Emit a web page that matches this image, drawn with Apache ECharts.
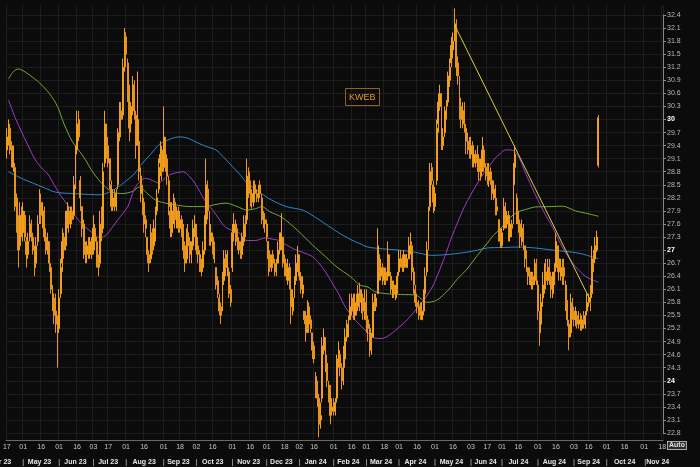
<!DOCTYPE html>
<html><head><meta charset="utf-8">
<script src="https://cdn.jsdelivr.net/npm/echarts@6/dist/echarts.min.js"></script>
<style>html,body{margin:0;padding:0;background:#0b0b0b;}#c{width:700px;height:467px;}</style>
</head><body><div id="c"></div>
<script>
// ---- axis calendar ----
const axisStart = '2023-04-17';
const axisEnd = '2024-11-18';
const holidays = ['2023-05-29','2023-06-19','2023-07-04','2023-09-04','2023-11-23','2023-12-25',
  '2024-01-01','2024-01-15','2024-02-19','2024-03-29','2024-05-27','2024-06-19','2024-07-04','2024-09-02'];
const monthNames = ['Jan','Feb','Mar','Apr','May','Jun','Jul','Aug','Sep','Oct','Nov','Dec'];

// ---- KWEB daily OHLC (from 2023-04-17) ----
const open = [
29.3,29.5,29.8,29.4,28.9,28.9,28.2,27.7,27.1,27.9,
27.4,27.8,27.2,26.9,27.3,27.6,27.3,27.0,26.7,27.2,
27.7,28.1,27.7,27.9,27.3,27.0,27.1,26.6,26.0,25.9,
25.6,25.3,25.2,26.0,26.7,27.3,27.1,27.7,27.9,27.6,
27.9,27.8,28.6,29.3,30.0,28.6,28.0,27.6,27.1,26.9,
27.1,26.9,27.2,27.0,27.5,27.2,26.8,26.7,27.7,27.5,
29.0,29.8,29.4,29.1,28.5,28.0,28.3,28.0,28.5,29.6,
30.2,30.1,31.3,31.9,31.3,30.7,29.9,30.2,30.8,30.1,
29.6,29.5,28.7,28.4,28.1,27.7,27.3,26.9,26.8,27.4,
27.1,27.4,27.9,28.4,29.0,29.3,28.9,29.5,29.1,28.6,
27.9,27.4,27.8,28.1,27.6,27.9,27.5,27.7,27.5,27.1,
26.8,27.4,27.2,26.8,27.1,27.4,27.5,27.1,26.9,26.7,
26.6,27.0,27.6,28.4,27.8,27.2,27.3,27.1,26.6,26.3,
25.9,25.7,25.7,26.3,26.9,26.5,26.5,26.1,26.6,27.4,
27.6,27.3,27.2,27.1,26.9,27.2,27.6,27.7,28.8,28.5,
28.3,28.1,28.5,28.3,28.2,28.5,28.2,27.8,27.7,27.6,
27.2,26.9,26.6,26.9,26.7,26.5,26.7,27.0,27.1,27.3,
26.8,26.6,26.3,26.6,26.1,25.6,26.0,26.3,26.6,26.8,
26.4,26.0,25.6,25.5,25.2,25.7,25.4,25.1,24.8,24.1,
23.9,23.6,23.1,23.6,24.7,24.9,24.4,23.9,23.8,23.3,
23.5,23.3,23.6,24.4,24.6,24.3,24.0,24.5,25.0,25.1,
25.4,25.6,25.9,25.5,25.9,25.7,26.1,25.7,25.9,25.6,
25.8,25.4,25.2,24.7,25.0,25.9,25.7,26.0,26.9,26.4,
26.6,26.3,26.5,26.4,26.8,26.4,26.0,26.2,25.9,26.1,
26.5,26.8,26.8,26.6,26.9,26.6,26.8,27.0,27.1,26.5,
26.1,25.8,25.7,25.7,25.4,25.6,26.0,26.5,27.1,28.0,
28.9,28.5,28.0,28.6,29.9,30.3,30.5,29.4,29.7,30.1,
30.4,30.9,31.3,31.6,31.9,32.1,31.3,30.9,30.3,29.9,
30.2,29.8,29.5,29.4,29.2,29.4,29.0,29.2,28.9,29.1,
28.7,28.9,29.3,28.9,28.9,28.6,28.8,28.6,28.2,28.4,
28.0,27.7,27.4,27.1,27.5,28.0,27.6,27.8,27.3,27.6,
27.7,28.9,28.2,27.9,27.6,27.2,27.5,27.1,26.9,26.6,
26.5,26.2,26.4,26.3,26.7,26.2,25.5,25.3,25.9,26.1,
26.5,26.3,26.6,26.4,26.0,26.3,26.6,27.1,26.8,26.4,
26.7,26.6,26.2,25.8,25.3,25.1,25.8,25.6,25.3,25.5,
25.3,25.5,25.2,25.4,25.3,25.6,25.8,25.9,26.0,26.9,
26.8,27.0,28.95];
const close = [
29.6,29.8,29.3,29.0,29.2,28.0,27.6,27.0,27.8,27.5,
27.9,27.3,26.9,27.2,27.6,27.4,27.0,26.6,27.1,27.6,
28.2,27.8,27.9,27.3,27.0,27.2,26.7,26.1,25.8,25.5,
25.3,25.1,25.9,26.6,27.2,27.0,27.7,27.9,27.6,27.8,
27.7,28.5,29.2,29.9,29.6,28.2,27.5,27.0,26.9,27.1,
26.9,27.2,26.9,27.5,27.2,26.8,26.6,27.6,27.4,28.8,
29.9,29.3,29.0,28.6,28.0,28.2,28.0,28.3,29.7,30.1,
30.0,31.2,31.9,31.5,30.6,29.8,30.3,30.7,30.2,29.4,
30.0,28.8,28.3,28.0,27.6,27.5,26.9,26.7,27.3,27.0,
27.5,27.8,28.2,28.9,29.2,28.8,29.6,29.0,28.7,28.0,
27.5,27.9,28.1,27.7,27.9,27.5,27.7,27.4,27.0,26.7,
27.3,27.1,26.9,27.0,27.5,27.6,27.0,26.9,26.6,26.5,
27.0,27.5,28.5,27.9,27.3,27.4,27.0,26.8,26.2,26.0,
25.6,25.5,26.4,26.8,26.6,26.8,26.0,25.8,27.4,27.6,
27.3,27.2,27.0,26.9,27.3,27.6,27.5,28.7,28.5,28.3,
28.1,28.4,28.3,28.2,28.4,28.3,27.8,27.7,27.6,27.3,
26.8,26.6,26.8,26.7,26.5,26.6,27.0,27.1,27.4,26.7,
26.6,26.4,26.6,26.2,25.7,25.9,26.2,26.7,26.9,26.4,
26.1,26.2,25.4,25.1,25.6,25.3,25.2,24.7,24.5,23.9,
23.6,23.0,23.2,24.8,25.0,24.4,24.0,23.7,23.2,23.4,
23.3,23.5,24.5,24.7,24.3,24.0,24.6,25.0,25.2,25.3,
25.7,25.8,25.6,25.8,25.7,26.0,25.8,25.9,25.6,25.8,
25.4,25.2,24.8,24.9,25.8,25.7,25.9,27.1,26.5,26.6,
26.4,26.5,26.3,26.9,26.5,26.1,26.2,26.0,26.1,26.4,
26.8,26.7,26.6,26.9,26.7,26.8,27.1,27.2,26.5,26.2,
25.8,25.7,25.6,25.5,25.6,26.0,26.4,27.0,27.7,28.8,
28.6,28.1,28.3,29.8,30.4,30.6,29.5,29.6,30.2,30.3,
31.0,31.2,31.7,31.8,32.2,31.2,31.0,30.2,30.0,30.2,
29.9,29.5,29.4,29.3,29.4,29.1,29.2,29.0,29.2,28.8,
28.9,29.3,28.9,28.8,28.7,28.8,28.6,28.3,28.4,28.0,
27.9,27.3,27.2,27.4,27.9,27.6,27.8,27.4,27.6,27.5,
28.8,29.2,27.9,27.6,27.3,27.5,27.2,26.8,26.7,26.4,
26.3,26.3,26.2,26.6,26.4,25.6,25.1,25.8,26.2,26.4,
26.3,26.6,26.4,26.1,26.3,26.5,27.2,26.7,26.5,26.6,
26.5,26.4,25.8,25.4,25.0,25.7,25.5,25.4,25.5,25.3,
25.4,25.3,25.4,25.3,25.5,25.8,25.9,25.8,26.8,26.7,
27.1,27.3,30.04];
const low = [
29.1,29.4,29.2,28.9,28.8,27.9,27.4,26.6,27.0,27.3,
27.2,27.2,26.6,26.8,27.2,27.2,26.9,26.4,26.6,27.1,
27.6,27.6,27.5,27.2,26.9,26.9,26.5,26.0,25.6,25.3,
25.1,24.3,25.1,25.9,26.5,26.8,27.0,27.5,27.4,27.5,
27.6,27.7,28.4,29.2,29.5,27.9,27.3,26.8,26.7,26.7,
26.8,26.8,26.8,26.9,27.0,26.6,26.4,26.6,27.2,27.4,
28.9,29.1,28.9,28.4,27.9,27.9,27.9,27.9,28.4,29.5,
29.6,30.0,31.1,31.2,30.4,29.5,29.7,30.1,30.0,29.1,
29.4,28.6,28.1,27.8,27.4,27.3,26.7,26.5,26.7,26.9,
27.0,27.2,27.8,28.3,28.7,28.6,28.8,28.8,28.5,27.8,
27.3,27.3,27.6,27.5,27.5,27.4,27.4,27.3,26.8,26.5,
26.7,27.0,26.7,26.7,27.0,27.3,26.9,26.7,26.5,26.4,
26.5,26.9,27.5,27.7,27.1,27.1,26.9,26.7,26.1,25.9,
25.5,25.3,25.6,26.2,26.4,26.4,25.9,25.7,26.5,27.2,
27.1,27.0,26.9,26.8,26.8,27.1,27.3,27.6,28.2,28.0,
27.95,28.0,28.2,28.1,28.1,28.2,27.6,27.5,27.4,27.2,
26.4,26.5,26.5,26.6,26.4,26.4,26.7,26.9,27.0,26.6,
26.4,26.3,26.2,26.1,25.3,25.5,25.9,26.2,26.5,26.3,
26.0,25.9,25.3,24.9,25.1,25.1,25.1,24.5,24.4,23.6,
23.4,22.7,22.9,23.5,24.6,24.2,23.85,23.5,23.0,23.2,
23.2,23.2,23.5,24.3,24.1,23.8,23.9,24.3,24.9,25.0,
25.4,25.5,25.4,25.4,25.5,25.6,25.6,25.55,25.4,25.4,
25.1,24.9,24.55,24.6,25.0,25.6,25.6,26.0,26.3,26.3,
26.2,26.2,26.2,26.3,26.4,26.0,25.9,25.9,25.85,26.0,
26.4,26.6,26.5,26.5,26.6,26.6,26.8,26.9,26.3,26.0,
25.7,25.55,25.4,25.4,25.4,25.5,25.9,26.4,27.0,27.9,
28.5,27.85,27.9,28.5,29.7,30.2,29.3,29.3,29.6,30.0,
30.3,30.75,31.2,31.4,31.8,31.0,30.8,30.0,29.8,29.8,
29.7,29.2,29.2,29.1,29.1,28.9,28.9,28.9,28.8,28.6,
28.6,28.8,28.8,28.6,28.5,28.45,28.5,28.15,28.15,27.8,
27.8,27.2,27.05,27.05,27.45,27.5,27.5,27.2,27.2,27.3,
27.6,28.5,27.6,27.4,27.05,27.1,27.0,26.6,26.5,26.2,
26.2,26.1,26.1,26.2,26.2,25.4,24.8,25.2,25.7,26.0,
26.1,26.2,26.2,25.9,25.9,26.2,26.5,26.5,26.3,26.3,
26.2,26.2,25.6,25.25,24.7,25.0,25.4,25.25,25.25,25.2,
25.2,25.15,25.15,25.2,25.2,25.5,25.7,25.6,25.9,26.5,
26.7,26.95,28.9];
const high = [
29.8,30.0,29.9,29.5,29.4,29.0,28.3,27.8,28.1,28.0,
28.1,27.9,27.3,27.4,27.8,27.7,27.4,27.1,27.3,27.8,
28.4,28.3,28.1,28.0,27.5,27.4,27.2,26.7,26.2,26.0,
26.0,25.5,26.1,26.8,27.5,27.4,27.9,28.1,28.0,28.0,
28.0,28.7,29.4,30.2,30.2,28.7,28.0,27.7,27.2,27.2,
27.3,27.3,27.3,27.8,27.6,27.3,26.9,27.9,28.0,29.0,
30.2,29.9,29.6,29.1,28.6,28.4,28.4,28.4,29.8,30.4,
30.4,31.4,32.1,32.0,31.4,30.8,30.4,31.0,30.9,30.2,
31.1,29.6,28.9,28.5,28.2,27.8,27.3,27.0,27.6,27.5,
27.7,28.0,28.4,29.1,29.5,29.4,30.3,29.6,29.2,28.7,
28.1,28.1,28.3,28.2,28.0,28.0,27.9,27.8,27.6,27.2,
27.5,27.6,27.3,27.2,27.7,27.8,27.6,27.3,27.0,26.8,
27.2,27.8,29.1,28.6,27.9,27.6,27.4,27.2,26.6,26.4,
26.0,25.8,26.5,27.0,27.0,27.0,26.6,26.2,27.6,27.85,
27.7,27.5,27.3,27.2,27.4,27.8,27.8,29.1,28.9,28.6,
28.4,28.6,28.6,28.4,28.5,28.6,28.3,27.9,27.85,27.7,
27.2,27.0,26.9,27.0,26.8,26.8,27.2,27.4,27.85,27.3,
26.9,26.7,26.8,26.7,26.2,26.1,26.4,26.9,27.1,26.9,
26.5,26.4,25.6,25.6,25.85,25.8,25.5,25.1,24.9,24.2,
24.0,23.7,23.5,25.0,25.2,25.0,24.6,24.0,23.9,23.6,
23.6,23.6,24.6,24.9,24.6,24.4,24.8,25.2,25.4,25.5,
26.0,26.0,26.0,26.0,26.0,26.2,26.25,26.1,26.0,26.1,
26.1,25.5,25.3,25.1,26.0,26.0,26.0,27.5,26.9,26.8,
26.7,26.6,26.6,27.2,26.9,26.5,26.3,26.3,26.2,26.5,
27.0,27.0,26.9,27.0,26.9,26.9,27.3,27.4,27.2,26.6,
26.2,26.0,25.85,25.8,25.8,26.1,26.6,27.2,28.0,29.0,
29.0,28.6,28.45,30.0,30.6,30.8,30.6,29.8,30.3,30.45,
31.1,31.4,31.9,32.0,32.55,32.3,31.45,31.0,30.5,30.4,
30.4,29.9,29.7,29.6,29.6,29.5,29.4,29.3,29.4,29.2,
29.1,29.6,29.4,29.0,29.0,29.0,28.9,28.6,28.6,28.5,
28.2,27.7,27.5,27.5,28.2,28.1,27.9,27.9,27.7,27.7,
29.0,29.4,28.3,27.85,27.7,27.7,27.6,27.1,27.0,26.6,
26.6,26.5,26.5,26.8,26.8,26.3,25.6,26.0,26.5,26.7,
26.8,26.8,26.8,26.5,26.5,26.7,27.4,27.1,26.9,26.8,
26.8,26.8,26.3,25.85,25.4,26.0,25.9,25.7,25.7,25.6,
25.6,25.55,25.5,25.6,25.6,26.0,26.0,26.2,27.1,27.0,
27.3,27.45,30.1];

// ---- moving averages [day index, value] ----
const ma50 = [[1,30.45],[5,30.05],[9,29.72],[13,29.4],[17,29.1],[21,28.9],[25,28.75],[29,28.5],[33,28.25],[37,28.05],[40,27.88],[44,27.68],[48,27.53],[53,27.38],[57,27.28],[61,27.35],[64,27.5],[69,27.75],[74,28.0],[78,28.4],[82,28.6],[85,28.65],[89,28.6],[93,28.54],[96,28.62],[99,28.72],[104,28.78],[108,28.8],[112,28.68],[115,28.54],[118,28.35],[121,28.15],[124,28.0],[127,27.87],[131,27.65],[134,27.52],[138,27.45],[142,27.4],[147,27.22],[152,27.22],[158,27.28],[163,27.25],[166,27.23],[171,27.12],[176,27.02],[181,26.95],[187,26.85],[191,26.7],[195,26.5],[199,26.25],[203,26.0],[207,25.7],[212,25.45],[216,25.28],[221,25.1],[225,24.98],[229,24.97],[232,25.0],[236,25.1],[240,25.23],[245,25.4],[250,25.62],[254,25.8],[257,25.95],[261,26.2],[264,26.47],[268,26.85],[272,27.28],[276,27.65],[280,28.0],[284,28.28],[288,28.54],[292,28.78],[295,28.92],[299,29.12],[302,29.22],[305,29.3],[308,29.3],[311,29.26],[314,29.08],[317,28.8],[320,28.55],[323,28.3],[327,28.0],[330,27.78],[334,27.52],[338,27.2],[341,27.0],[344,26.82],[348,26.62],[351,26.5],[354,26.4],[358,26.32],[362,26.2672]];
const ma100 = [[1,30.93],[4,31.1],[7,31.16],[10,31.12],[14,31.02],[20,30.84],[26,30.6],[31,30.3],[35,29.9],[40,29.5],[47,29.14],[53,28.77],[59,28.5],[65,28.33],[71,28.3],[77,28.35],[81,28.45],[86,28.3],[91,28.15],[97,28.08],[103,28.04],[112,28.0],[121,28.0],[128,28.05],[134,28.08],[141,28.0],[147,27.92],[152,27.95],[156,28.0],[161,27.88],[168,27.76],[178,27.45],[187,27.12],[195,26.85],[202,26.61],[210,26.4],[216,26.2],[221,26.15],[225,26.05],[232,26.0],[241,25.98],[250,25.97],[257,25.8],[263,25.85],[270,26.08],[276,26.35],[281,26.54],[288,26.88],[294,27.16],[298,27.35],[303,27.53],[308,27.75],[313,27.88],[319,27.95],[323,27.99],[333,28.0],[340,28.01],[348,27.9],[354,27.85],[362,27.778]];
const ma200 = [[1,28.8],[10,28.63],[16,28.54],[23,28.43],[30,28.33],[40,28.3],[50,28.28],[57,28.27],[62,28.32],[66,28.4],[70,28.5],[74,28.62],[78,28.75],[83,29.0],[88,29.2],[93,29.42],[98,29.52],[105,29.6],[110,29.58],[117,29.46],[122,29.38],[128,29.3],[133,29.12],[138,28.92],[143,28.72],[147,28.54],[155,28.32],[162,28.15],[171,28.0],[181,27.92],[186,27.82],[191,27.7],[197,27.55],[203,27.4],[210,27.25],[216,27.15],[221,27.07],[230,27.03],[240,27.0],[250,26.95],[260,26.88],[270,26.9],[281,26.95],[288,27.0],[294,27.05],[303,27.06],[313,27.07],[323,27.05],[334,27.0],[342,26.97],[350,26.93],[356,26.87],[362,26.8041]];
const trendLine = [[274,32.17],[357,25.85]];

const lastClose = 30.04, lastMa100 = 27.778, lastMa200 = 26.8041, lastMa50 = 26.2672;
const yMin = 22.8, yMax = 32.4, yStep = 0.3;

// ---- build trading-day categories ----
function tradingDays(start, end, hol) {
  const hs = new Set(hol), out = [];
  const d = new Date(start + 'T00:00:00Z'), e = new Date(end + 'T00:00:00Z');
  while (d <= e) {
    const wd = d.getUTCDay(), s = d.toISOString().slice(0, 10);
    if (wd !== 0 && wd !== 6 && !hs.has(s)) out.push(s);
    d.setUTCDate(d.getUTCDate() + 1);
  }
  return out;
}
const days = tradingDays(axisStart, axisEnd, holidays);
const dayTicks = new Set(), monthStarts = new Set(), monthMid = new Map();
let groupStart = 0, seen16 = false;
for (let i = 0; i < days.length; i++) {
  const m = days[i].slice(0, 7), dd = +days[i].slice(8, 10);
  const newMonth = i === 0 || m !== days[i - 1].slice(0, 7);
  if (newMonth) {
    if (i > 0) { monthStarts.add(i); monthMid.set(Math.floor((groupStart + i - 1) / 2), days[i - 1]); }
    groupStart = i; seen16 = false; dayTicks.add(i);
  }
  if (dd >= 16 && !seen16) { seen16 = true; dayTicks.add(i); }
}
const lastMonthStart = groupStart;           // partial last month: separator + name in one label
monthMid.delete(Math.floor(([...monthStarts][0] - 1) / 2));
monthMid.set(0, days[0]);                    // partial first month: shown clipped at left edge
function monthLabel(s) { return monthNames[+s.slice(5, 7) - 1] + ' ' + s.slice(2, 4); }

const candleData = open.map((o, i) => [o, close[i], low[i], high[i]]);
const font = 'Liberation Sans';

function lastLabel(v, bg, fg) {
  return {
    silent: true, symbol: ['none', 'none'],
    lineStyle: { opacity: 0 },
    label: { show: true, position: 'end', distance: 1, formatter: v.toFixed(6),
      backgroundColor: bg, color: fg, fontSize: 7, fontFamily: font, padding: [1, 2, 0, 2], lineHeight: 7 },
    data: [{ yAxis: v }]
  };
}

function monthFormatter(v, i) {
  if (i === lastMonthStart) return '{sepL||}{m|' + monthLabel(v) + '}';
  if (monthStarts.has(i)) return '{sep||}';
  if (i === 0) return '{first|' + monthLabel(v) + '}';
  return monthLabel(monthMid.get(i));
}

const chart = echarts.init(document.getElementById('c'));
chart.setOption({
  animation: false,
  backgroundColor: '#0b0b0b',
  title: { text: 'KWEB', left: 345, top: 88, padding: [5, 4, 4, 4], borderColor: '#8a6420', borderWidth: 1,
    textStyle: { color: '#e49a2a', fontSize: 9, fontWeight: 'normal', fontFamily: font } },
  graphic: [{ type: 'text', left: 667, top: 441, z: 10,
    style: { text: 'Auto', fill: '#e0e0e0', font: 'bold 7px Liberation Sans', backgroundColor: '#2a2a2a',
      borderColor: '#aaa', borderWidth: 1, padding: [0, 1] } }],
  grid: [
    { left: 6, right: 37, top: 5, bottom: 27, containLabel: false, outerBoundsMode: 'none' },
    { left: 6, right: 37, top: 15, bottom: 34, containLabel: false, outerBoundsMode: 'none' }
  ],
  xAxis: [
    { type: 'category', gridIndex: 0, data: days, boundaryGap: true,
      axisLine: { onZero: false, lineStyle: { color: '#6a6a6a' } }, axisTick: { show: false },
      axisLabel: { interval: (i) => dayTicks.has(i), formatter: (v) => v.slice(8, 10), hideOverlap: false,
        color: '#c8c8c8', fontSize: 7, fontFamily: font, margin: 4 },
      splitLine: { show: true, interval: (i) => dayTicks.has(i), lineStyle: { color: '#1d1d1d', width: 1 } } },
    { type: 'category', gridIndex: 0, data: days, boundaryGap: true, position: 'bottom', offset: 15,
      axisLine: { show: false, onZero: false }, axisTick: { show: false },
      axisLabel: { interval: (i) => monthStarts.has(i) || monthMid.has(i), hideOverlap: false,
        formatter: monthFormatter,
        color: '#e6e6e6', fontSize: 7, fontWeight: 'bold', fontFamily: font, margin: 4,
        rich: { sep: { color: '#9a9a9a', fontSize: 7, fontFamily: font },
                sepL: { color: '#9a9a9a', fontSize: 7, fontFamily: font, padding: [0, 0, 0, 25] },
                m: { color: '#e6e6e6', fontSize: 7, fontWeight: 'bold', fontFamily: font },
                first: { color: '#e6e6e6', fontSize: 7, fontWeight: 'bold', fontFamily: font, padding: [0, 13, 0, 0] } } },
      splitLine: { show: false } },
    { type: 'value', gridIndex: 1, show: false, min: 0, max: 1, splitLine: { show: false },
      axisLine: { show: false }, axisTick: { show: false }, axisLabel: { show: false } }
  ],
  yAxis: [
    { type: 'value', gridIndex: 0, show: false, min: yMin - 7 / (418 / (yMax - yMin)), max: yMax + 10 / (418 / (yMax - yMin)),
      splitLine: { show: false } },
    { type: 'value', gridIndex: 1, position: 'right', min: yMin, max: yMax, interval: yStep,
      axisLine: { show: true, onZero: false, lineStyle: { color: '#8a8a8a' } },
      axisTick: { show: true, length: 3, lineStyle: { color: '#8a8a8a' } },
      axisLabel: { color: '#b8b8b8', fontSize: 7, fontFamily: font, margin: 4,
        formatter: (v) => { const r = Math.round(v * 10) / 10; return Number.isInteger(r) ? '{b|' + r + '}' : r.toFixed(1); },
        rich: { b: { color: '#ffffff', fontWeight: 'bold', fontSize: 7, fontFamily: font } } },
      splitLine: { show: true, lineStyle: { color: '#1d1d1d', width: 1 } } }
  ],
  series: [
    { name: 'MA200', type: 'line', xAxisIndex: 0, yAxisIndex: 0, data: ma200, smooth: 0.3, symbol: 'none',
      lineStyle: { color: '#2f86c8', width: 1 }, z: 3, markLine: lastLabel(lastMa200, '#1e8fe8', '#0a2a55') },
    { name: 'MA100', type: 'line', xAxisIndex: 0, yAxisIndex: 0, data: ma100, smooth: 0.3, symbol: 'none',
      lineStyle: { color: '#72a83a', width: 1 }, z: 3, markLine: lastLabel(lastMa100, '#6ccf1c', '#163a05') },
    { name: 'MA50', type: 'line', xAxisIndex: 0, yAxisIndex: 0, data: ma50, smooth: 0.3, symbol: 'none',
      lineStyle: { color: '#a03cc6', width: 1 }, z: 3, markLine: lastLabel(lastMa50, '#c23ad8', '#3a0845') },
    { name: 'KWEB', type: 'candlestick', xAxisIndex: 0, yAxisIndex: 0, data: candleData, barWidth: 1.4, z: 4,
      itemStyle: { color: '#f2a01c', color0: '#e8941a', borderColor: '#f2a01c', borderColor0: '#e8941a',
        borderColorDoji: '#f2a01c', borderWidth: 1, opacity: 1 },
      markLine: lastLabel(lastClose, '#f2a62a', '#1a1000') },
    { name: 'Trend', type: 'line', xAxisIndex: 0, yAxisIndex: 0, data: trendLine, symbol: 'none',
      lineStyle: { color: '#d6d03c', width: 1 }, z: 5 }
  ]
});
</script></body></html>
